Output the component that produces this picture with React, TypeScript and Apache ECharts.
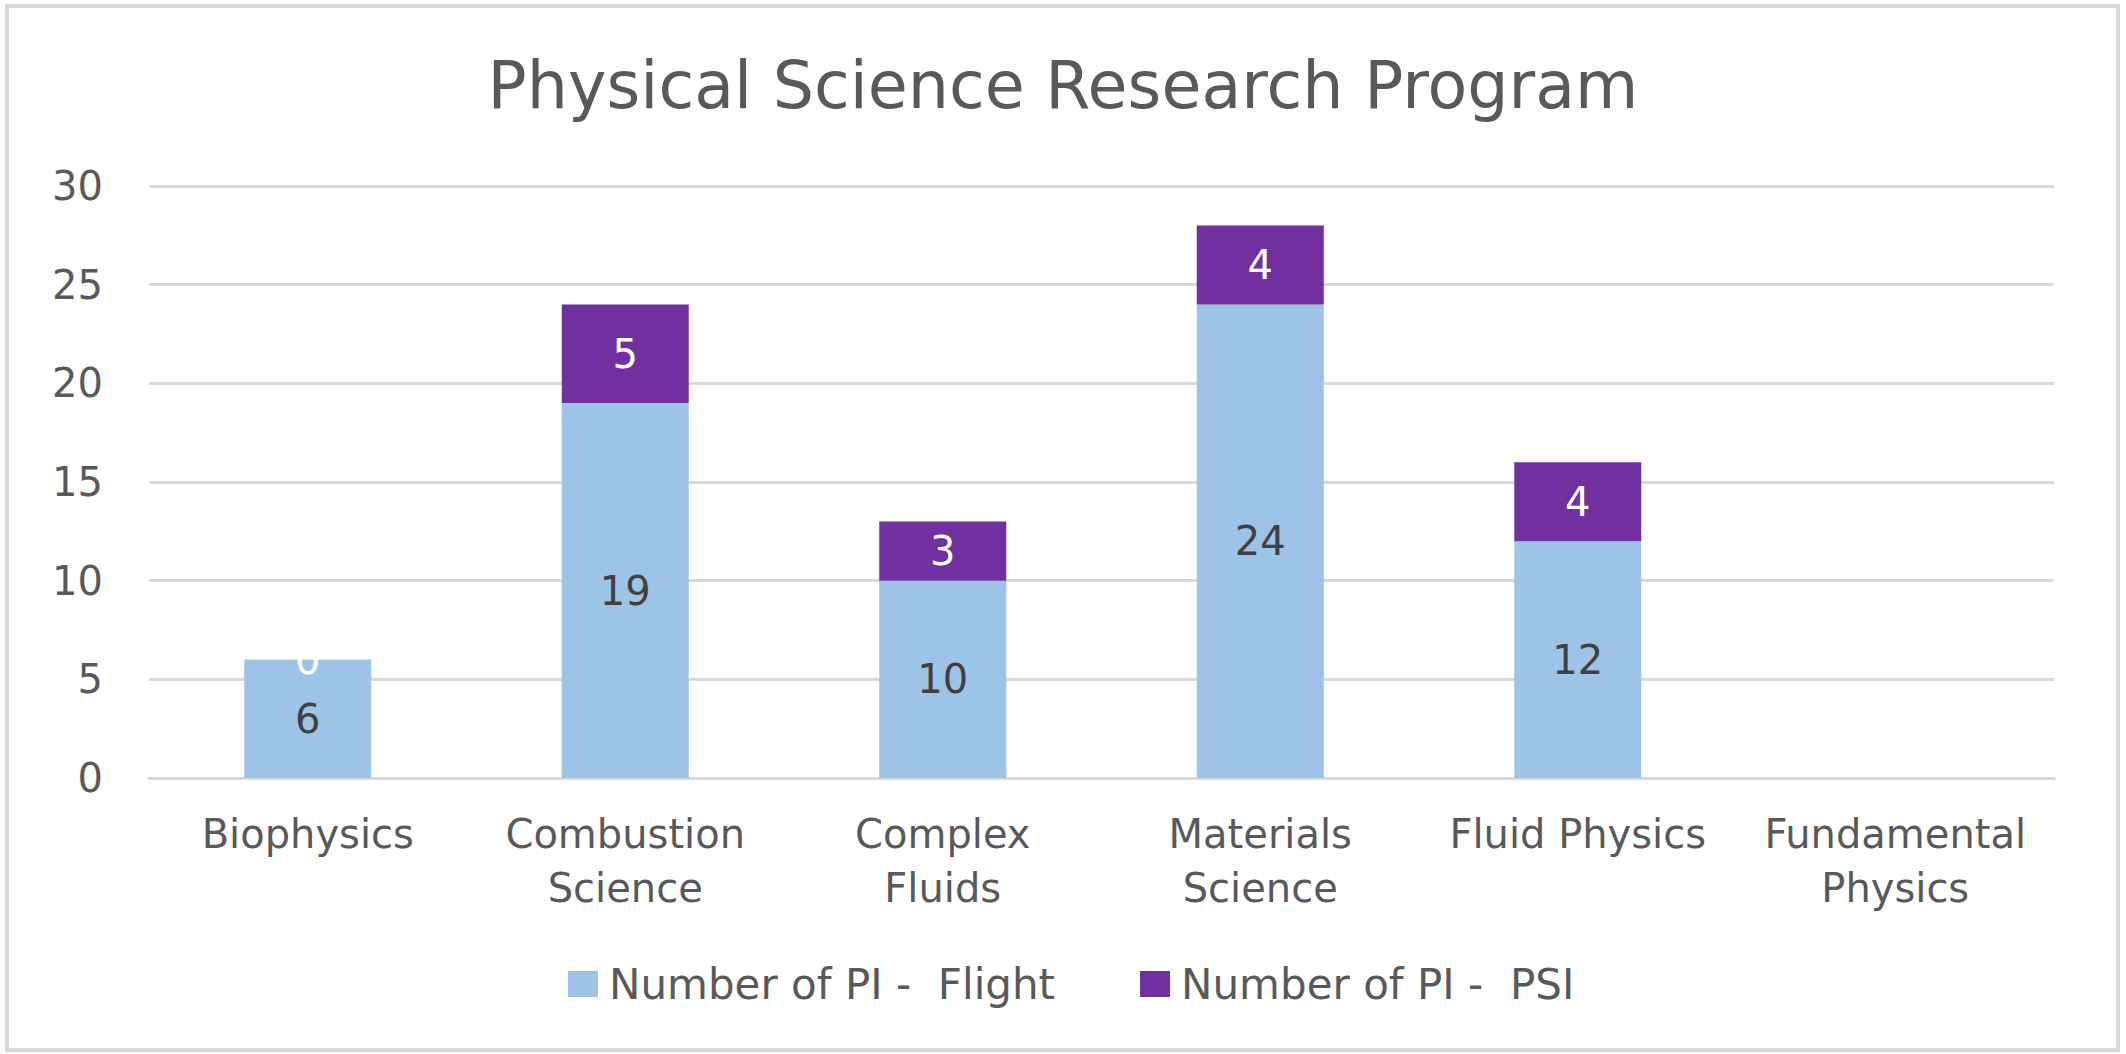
import React, { useEffect, useRef } from "react";
import * as echarts from "echarts";

const categories = [
  "Biophysics",
  "Combustion\nScience",
  "Complex\nFluids",
  "Materials\nScience",
  "Fluid Physics",
  "Fundamental\nPhysics",
];
const flightValues: (number | null)[] = [6, 19, 10, 24, 12, null];
const psiValues: (number | null)[] = [0, 5, 3, 4, 4, null];
const seriesNames = ["Number of PI -  Flight", "Number of PI -  PSI"];
const titleText = "Physical Science Research Program";
const yMin = 0;
const yMax = 30;
const yInterval = 5;

const FONT = "DejaVu Sans";
const GRAY = "#595959";
const LINE = "#d9d9d9";

export default function App() {
  const ref = useRef<HTMLDivElement>(null);
  useEffect(() => {
    if (!ref.current) return;
    const chart = echarts.init(ref.current, undefined, { renderer: "svg" });
    chart.setOption({
      animation: false,
      backgroundColor: "#ffffff",
      title: {
        text: titleText,
        left: "center",
        top: 48,
        textStyle: { fontFamily: FONT, fontSize: 65, fontWeight: "normal", color: GRAY },
      },
      graphic: [
        {
          type: "rect",
          shape: { x: 7, y: 6, width: 2111, height: 1044 },
          style: { fill: "none", stroke: LINE, lineWidth: 4 },
          silent: true,
          z: -1,
        },
      ],
      legend: {
        left: 563,
        top: 958,
        itemWidth: 30,
        itemHeight: 26,
        itemGap: 85,
        icon: "rect",
        textStyle: { fontFamily: FONT, fontSize: 42, color: GRAY, padding: [0, 0, 0, 6] },
        data: seriesNames,
      },
      grid: { left: 149, right: 72, top: 186, bottom: 276, containLabel: false },
      xAxis: {
        type: "category",
        data: categories,
        axisLine: { show: true, lineStyle: { color: LINE, width: 3 } },
        axisTick: { show: false },
        axisLabel: {
          interval: 0,
          margin: 29,
          fontFamily: FONT,
          fontSize: 40,
          lineHeight: 54,
          color: GRAY,
        },
      },
      yAxis: {
        type: "value",
        min: yMin,
        max: yMax,
        interval: yInterval,
        axisLine: { show: false },
        axisTick: { show: false },
        splitLine: { lineStyle: { color: LINE, width: 3 } },
        axisLabel: { margin: 46, fontFamily: FONT, fontSize: 40, color: GRAY },
      },
      series: [
        {
          name: seriesNames[0],
          type: "bar",
          stack: "total",
          barWidth: "40%",
          data: flightValues,
          itemStyle: { color: "#9DC3E6" },
          label: {
            show: true,
            position: "inside",
            fontFamily: FONT,
            fontSize: 40,
            color: "#404040",
          },
        },
        {
          name: seriesNames[1],
          type: "bar",
          stack: "total",
          barWidth: "40%",
          data: psiValues,
          itemStyle: { color: "#7030A0" },
          label: {
            show: true,
            position: "inside",
            fontFamily: FONT,
            fontSize: 40,
            color: "#ffffff",
          },
        },
      ],
    });
    return () => chart.dispose();
  }, []);
  return (
    <div
      ref={ref}
      style={{ position: "absolute", left: 0, top: 0, width: 2126, height: 1054 }}
    />
  );
}
